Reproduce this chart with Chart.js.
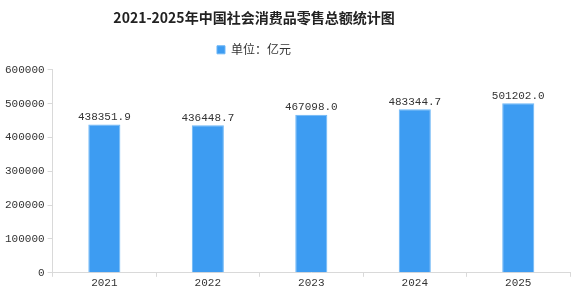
<!DOCTYPE html>
<html><head><meta charset="utf-8">
<script src="https://cdn.jsdelivr.net/npm/chart.js@4"></script>
<style>html,body{margin:0;padding:0;background:#fff}#wrap{width:579px;height:300px}</style>
</head><body><div id="wrap"><canvas id="c"></canvas></div>
<script>
const categories = ['2021','2022','2023','2024','2025'];
const retailSales = [438351.9, 436448.7, 467098.0, 483344.7, 501202.0];
const seriesName = '单位：亿元';
const chartTitle = '2021-2025年中国社会消费品零售总额统计图';

const shiftPlugin = {
  id: 'shiftHeader',
  afterInit(chart) {
    const lg = chart.legend;
    if (lg) {
      const origFit = lg.fit.bind(lg);
      lg.fit = function () { origFit(); this.height += 4; };
    }
  },
  afterLayout(chart) {
    const dx = -32;
    if (chart.titleBlock) { chart.titleBlock.left += dx; chart.titleBlock.right += dx; }
    if (chart.legend) { chart.legend.left += dx; chart.legend.right += dx; }
  }
};
const labelPlugin = {
  id: 'barLabels',
  afterDatasetsDraw(chart) {
    const ctx = chart.ctx;
    const meta = chart.getDatasetMeta(0);
    ctx.save();
    ctx.font = '11px "Liberation Mono", monospace';
    ctx.fillStyle = '#333';
    ctx.textAlign = 'center';
    ctx.textBaseline = 'bottom';
    meta.data.forEach((bar, i) => {
      ctx.fillText(retailSales[i].toFixed(1), bar.x, bar.y - 2);
    });
    ctx.restore();
  }
};

new Chart(document.getElementById('c'), {
  type: 'bar',
  data: {
    labels: categories,
    datasets: [{
      label: seriesName,
      data: retailSales,
      backgroundColor: '#3d9cf2',
      borderColor: '#6cb6f6',
      borderWidth: 1,
      categoryPercentage: 0.31,
      barPercentage: 1.0
    }]
  },
  options: {
    responsive: true,
    maintainAspectRatio: false,
    animation: false,
    layout: { padding: { left: 2, right: 9, top: 0, bottom: 10 } },
    plugins: {
      title: {
        display: true,
        text: chartTitle,
        color: '#222',
        font: { family: '"Noto Sans CJK SC"', size: 14, weight: 'bold' },
        padding: { top: 9, bottom: 4 }
      },
      legend: {
        display: true,
        labels: {
          color: '#333',
          font: { family: '"Noto Sans CJK SC"', size: 12 },
          boxWidth: 8, boxHeight: 8, padding: 14
        }
      },
      tooltip: { enabled: false }
    },
    scales: {
      x: {
        grid: { display: true, drawOnChartArea: false, color: '#d9d9d9', tickLength: 4, offset: true },
        border: { color: '#d9d9d9' },
        ticks: { color: '#333', font: { family: '"Liberation Mono", monospace', size: 11 }, padding: 0 }
      },
      y: {
        min: 0, max: 600000,
        grid: { display: true, drawOnChartArea: false, color: '#d9d9d9', tickLength: 5 },
        border: { color: '#d9d9d9' },
        ticks: { stepSize: 100000, color: '#333', font: { family: '"Liberation Mono", monospace', size: 11 }, padding: 3,
          callback: v => String(v) }
      }
    }
  },
  plugins: [shiftPlugin, labelPlugin]
});
</script></body></html>
